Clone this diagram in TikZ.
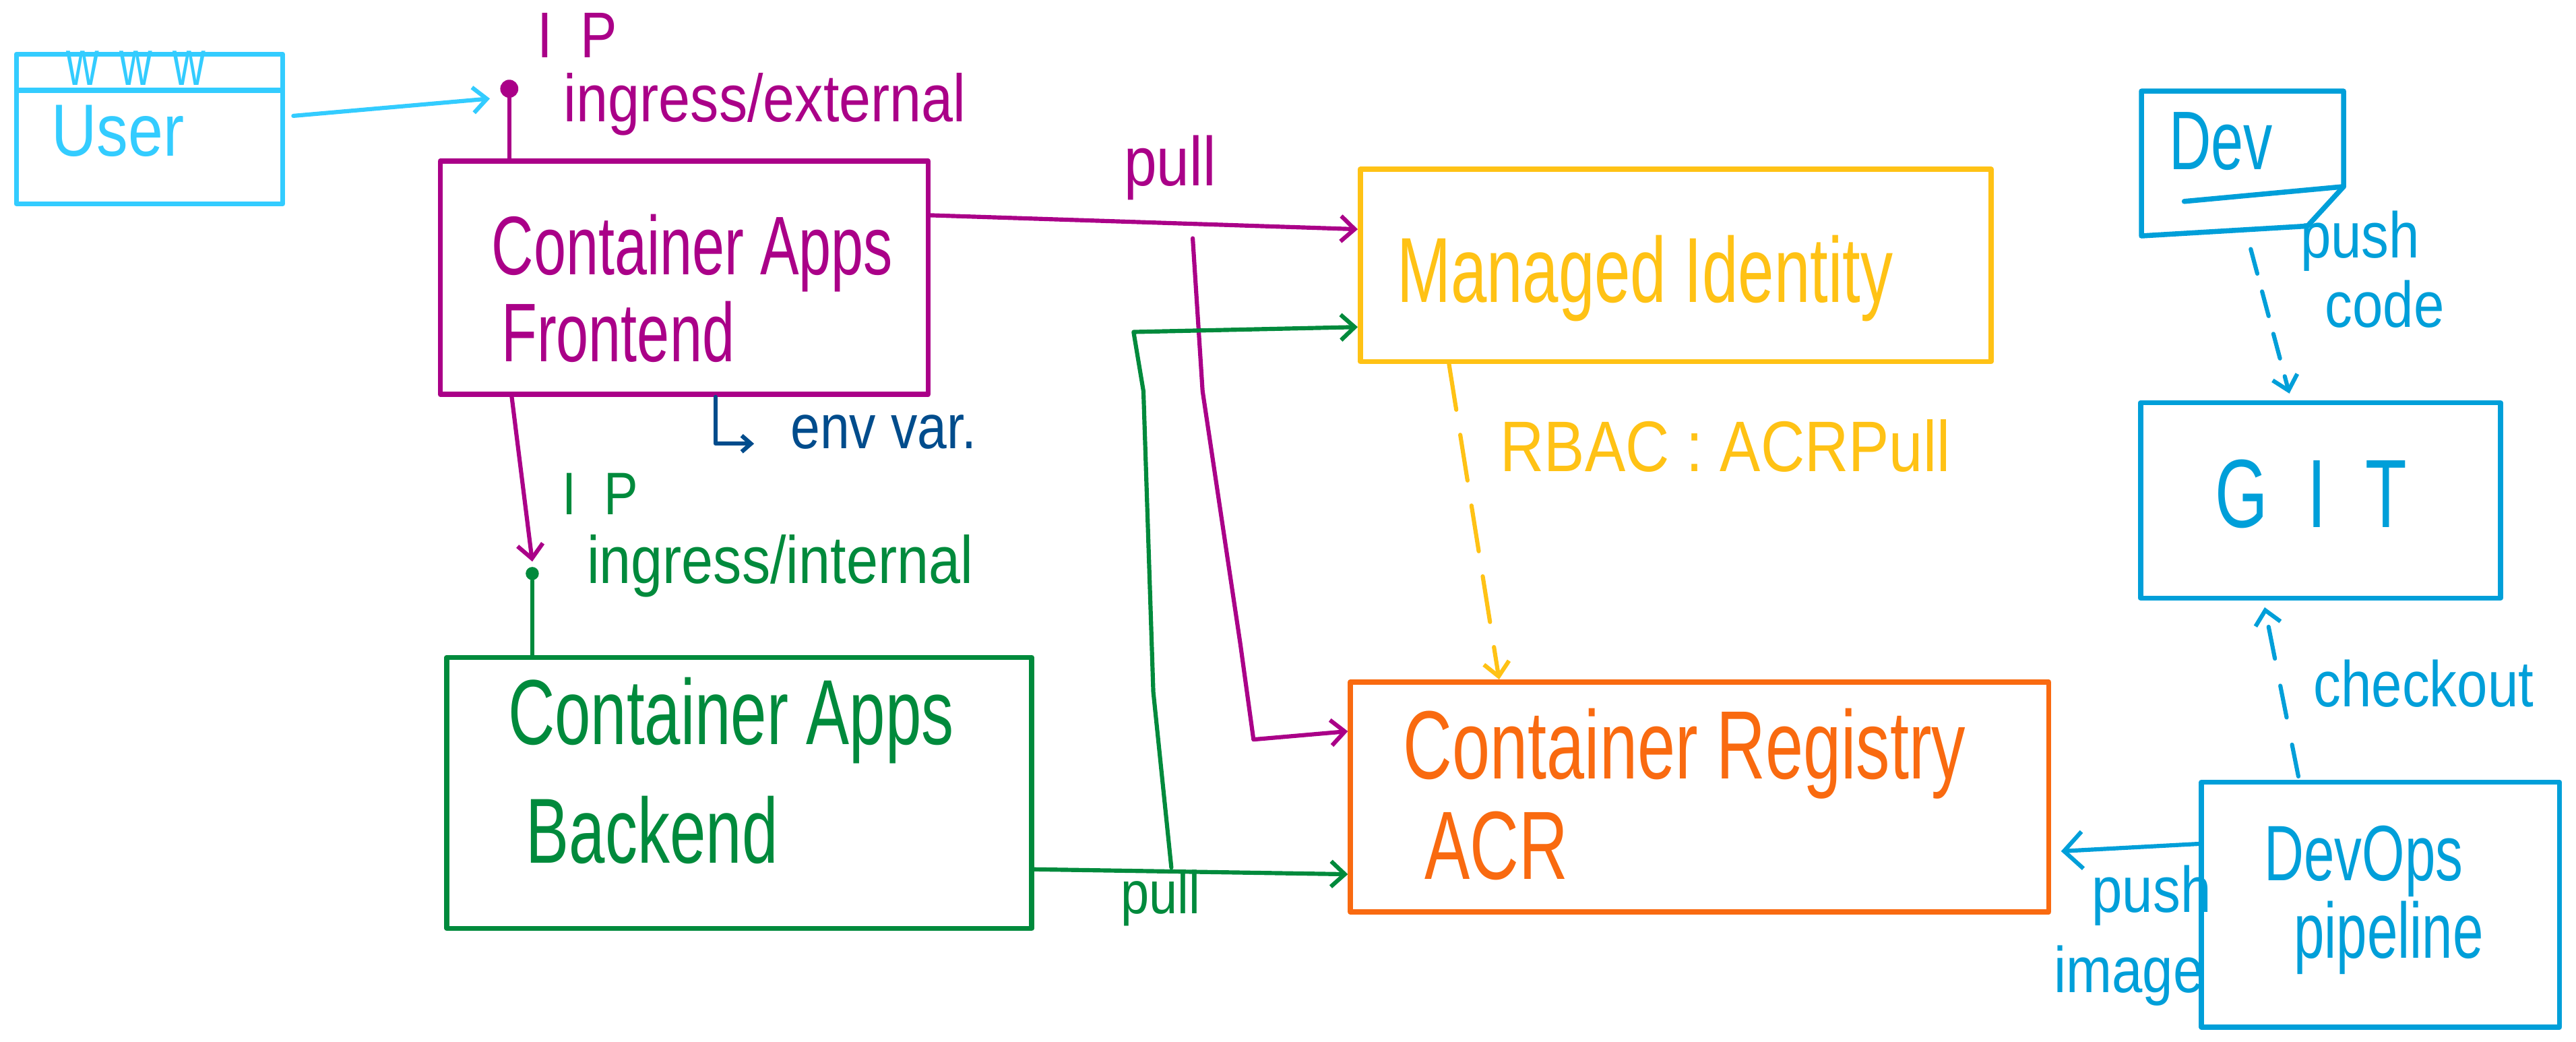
\documentclass[tikz,border=0pt]{standalone}
\usepackage{fontspec}
\newfontfamily\hand{Liberation Sans}[FakeStretch=0.85]
\newfontfamily\handc{Liberation Sans}[FakeStretch=0.7]
\usetikzlibrary{arrows.meta,calc}
\definecolor{cyanU}{HTML}{33CCFF}
\definecolor{magF}{HTML}{AA0088}
\definecolor{grnB}{HTML}{008A3C}
\definecolor{yelM}{HTML}{FFC215}
\definecolor{orgA}{HTML}{F96A10}
\definecolor{bluD}{HTML}{009FD9}
\definecolor{dkbE}{HTML}{004C8C}
\def\U{0.025cm}
\newcommand{\fsz}[1]{\fontsize{#1}{#1}\selectfont}
\begin{document}
\begin{tikzpicture}[x=0.025cm,y=-0.025cm, line cap=round, line join=round,
 sbox/.style={draw, rectangle, inner sep=0pt, line width=2.2pt},
 bsize/.style 2 args={minimum width=#1*\U, minimum height=#2*\U},
 lbl/.style={inner sep=0pt, anchor=base west},
 conn/.style={line width=1.8pt},
 ctip/.style={-{Straight Barb[length=6pt,width=11pt]}},
 ipdotst/.style={circle, inner sep=0pt, minimum size=11*\U}
]
\useasboundingbox[fill=white] (0,0) rectangle (1568,634);

% boxes
\node[sbox, draw=cyanU, bsize={162}{22}] (www) at (91,44) {};
\node[sbox, draw=cyanU, bsize={162}{69}] (user) at (91,89.5) {};
\node[sbox, draw=magF, bsize={297}{142}] (fe) at (416.5,169) {};
\node[sbox, draw=grnB, bsize={356}{165}] (be) at (450,482.5) {};
\node[sbox, draw=yelM, bsize={384}{117}] (mi) at (1020,161.5) {};
\node[sbox, draw=orgA, bsize={425}{140}] (acr) at (1034.5,485) {};
\node[sbox, draw=none, bsize={120}{85}] (dev) at (1365,99.5) {};
\node[sbox, draw=bluD, bsize={219}{119}] (git) at (1412.5,304.5) {};
\node[sbox, draw=bluD, bsize={218}{149}] (devops) at (1449,550.5) {};
% Dev sheet with folded corner
\draw[bluD, line width=2.2pt] (dev.north west) -- (dev.north east) -- ($(dev.south east)+(0,-30)$) -- ($(dev.south east)+(-22,-6)$) -- (dev.south west) -- cycle;
\draw[bluD, line width=2.2pt] ($(dev.south east)+(-97,-21)$) -- ($(dev.south east)+(0,-30)$);

% box texts
\node[lbl, text=cyanU, font=\handc\fsz{28}] (wwwt) at (40,52) {w\kern9pt w\kern9pt w};
\node[lbl, text=cyanU, font=\hand\fsz{32}] (usert) at (31,95) {User};
\node[lbl, text=magF, font=\handc\fsz{36}] (fe1) at (299,167) {Container Apps};
\node[lbl, text=magF, font=\handc\fsz{36}] (fe2) at (305,220) {Frontend};
\node[lbl, text=grnB, font=\handc\fsz{40}] (be1) at (309,453) {Container Apps};
\node[lbl, text=grnB, font=\handc\fsz{40}] (be2) at (320,525) {Backend};
\node[lbl, text=yelM, font=\handc\fsz{40}] (mit) at (850,184) {Managed Identity};
\node[lbl, text=orgA, font=\handc\fsz{42}] (crt) at (854,474) {Container Registry};
\node[lbl, text=orgA, font=\handc\fsz{42}] (acrt) at (867,535) {ACR};
\node[lbl, text=bluD, font=\handc\fsz{36}] (devt) at (1320,103) {Dev};
\node[lbl, text=bluD, font=\handc\fsz{42}] (gitt) at (1348,321) {G\kern17pt I\kern17pt T};
\node[lbl, text=bluD, font=\handc\fsz{34}] (dot1) at (1378,536) {DevOps};
\node[lbl, text=bluD, font=\handc\fsz{34}] (dot2) at (1396,583) {pipeline};

% ingress labels
\node[lbl, text=magF, font=\hand\fsz{28}] (ip1) at (327,35) {I\kern12pt P};
\node[lbl, text=magF, font=\hand\fsz{29}] (ingx) at (343,74) {ingress/external};
\node[lbl, text=grnB, font=\hand\fsz{26}] (ip2) at (342,313) {I\kern12pt P};
\node[lbl, text=grnB, font=\hand\fsz{29}] (ingi) at (357,355) {ingress/internal};

% user -> external ingress
\node[ipdotst, fill=magF] (ipdot) at (310,54) {};
\draw[conn, cyanU, ctip] ($(user.east)+(5,-19)$) -- ($(ipdot.west)+(-6,6)$);
\draw[conn, magF] (ipdot) -- (ipdot |- fe.north);

% frontend -> managed identity (pull)
\draw[conn, magF, ctip] ($(fe.east)+(0,-38)$) -- ($(mi.west)+(0,-22)$);
\node[lbl, text=magF, font=\hand\fsz{30}] (pull1) at (684,113) {pull};
\coordinate (m1) at (726,145);
\coordinate (m2) at (732,238);
\coordinate (m3) at (755,392);
\coordinate (m4) at (763,450);
\draw[conn, magF, ctip] (m1) -- (m2) -- (m3) -- (m4) -- ($(acr.west)+(0,-40)$);

% backend -> registry (pull)
\draw[conn, grnB, ctip] ($(be.east)+(0,46.5)$) -- ($(acr.west)+(0,47)$);
\node[lbl, text=grnB, font=\hand\fsz{26}] (pull2) at (682,556) {pull};
\coordinate (g1) at (713,528);
\coordinate (g2) at (702,421);
\coordinate (g3) at (696,238);
\coordinate (g4) at (690,202);
\draw[conn, grnB, ctip] (g1) -- (g2) -- (g3) -- (g4) -- ($(mi.west)+(0,37.5)$);

% frontend -> backend internal ingress
\node[ipdotst, fill=grnB, minimum size=8*\U] (bedot) at (324,349) {};
\draw[conn, magF, ctip] ($(fe.south)+(-105,0)$) -- ($(bedot.north)+(0,-3)$);
\draw[conn, grnB] (bedot) -- (bedot |- be.north);

% env var
\node[lbl, text=dkbE, font=\hand\fsz{27}] (envt) at (481,273) {env var.};
\draw[conn, dkbE, -{Straight Barb[length=4pt,width=7pt]}] ($(fe.south)+(19,0)$) |- ($(envt.base west)+(-22,-3)$);

% managed identity -> registry
\draw[conn, yelM, dash pattern=on 20pt off 11pt, ctip] ($(mi.south)+(-138,0)$) -- ($(acr.north)+(-122,0)$);
\node[lbl, text=yelM, font=\hand\fsz{31}] (rbac) at (913,287) {RBAC : ACRPull};

% dev -> git
\draw[conn, bluD, dash pattern=on 11pt off 8pt, ctip] ($(dev.south)+(5,8)$) -- ($(git.north)+(-19,-4)$);
\node[lbl, text=bluD, font=\hand\fsz{28}] (pusht) at (1400,157) {push};
\node[lbl, text=bluD, font=\hand\fsz{28}] (codet) at (1415,199) {code};

% devops -> git checkout
\draw[conn, bluD, dash pattern=on 14pt off 12pt, ctip] ($(devops.north)+(-50,-2)$) -- ($(git.south)+(-34,4)$);
\node[lbl, text=bluD, font=\hand\fsz{28}] (chk) at (1408,430) {checkout};

% devops -> registry push image
\draw[conn, bluD, -{Straight Barb[length=8pt,width=16pt]}] ($(devops.west)+(0,-37)$) -- ($(acr.east)+(6,33)$);
\node[lbl, text=bluD, font=\hand\fsz{28}] (pushi) at (1273,555) {push};
\node[lbl, text=bluD, font=\hand\fsz{28}] (imgt) at (1250,604) {image};
\end{tikzpicture}
\end{document}
